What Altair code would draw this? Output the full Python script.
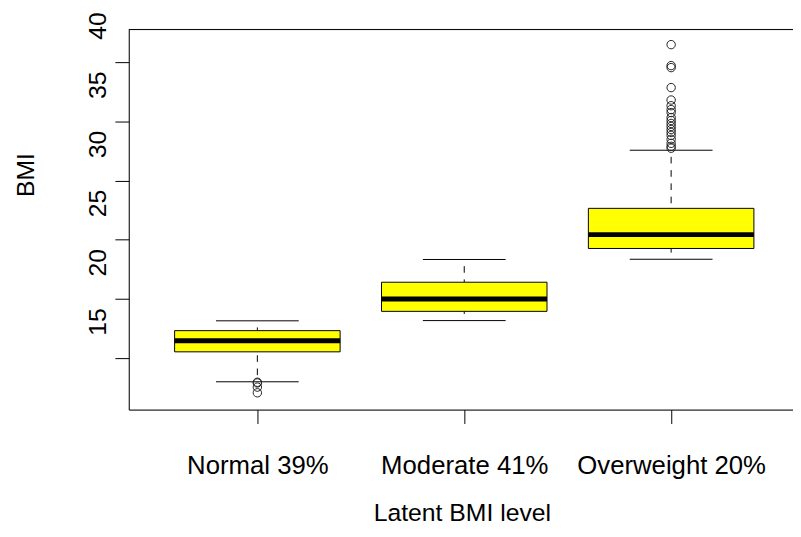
import altair as alt
import pandas as pd

# ---- data ----
groups = ["Normal 39%", "Moderate 41%", "Overweight 20%"]
positions = [1, 2, 3]
whisker_low = [13.00, 18.17, 23.35]
quart1 = [15.53, 18.95, 24.26]
medians = [16.46, 19.99, 25.43]
quart3 = [17.32, 21.41, 27.65]
whisker_high = [18.15, 23.33, 32.56]

normal_outliers = [12.96, 12.90, 12.55, 12.07]
overweight_outliers = [41.48, 39.71, 39.54, 37.85, 36.80, 36.32, 35.99, 35.74,
                       35.32, 35.07, 34.82, 34.57, 34.31, 34.06, 33.81, 33.48,
                       33.14, 32.89, 32.73]

y_ticks = [15, 20, 25, 30, 35, 40]

stats = pd.DataFrame({
    "group": groups, "pos": positions, "low": whisker_low, "q1": quart1,
    "med": medians, "q3": quart3, "high": whisker_high,
})
outl = pd.DataFrame({
    "pos": [1] * len(normal_outliers) + [3] * len(overweight_outliers),
    "val": normal_outliers + overweight_outliers,
})

W, H = 671, 384
FONT = "Liberation Sans"

label_js = "[''," + ",".join("'%s'" % g for g in groups) + "][datum.value]"

x_axis = alt.Axis(
    values=positions, labelExpr=label_js, title="Latent BMI level",
    grid=False, domainColor="black", tickColor="black", tickSize=14,
    labelPadding=51, labelBaseline="alphabetic", labelFontSize=26,
    labelFont=FONT, labelColor="black", labelFlush=False, labelOverlap=False,
    labelLimit=0,
    titleFont=FONT, titleFontSize=25, titleFontWeight="normal",
    titleColor="black", titleX=336.5, titleY=112, titleBaseline="alphabetic",
    titleAlign="center",
)
y_axis = alt.Axis(
    values=y_ticks, title="BMI", grid=False, domainColor="black",
    tickColor="black", tickSize=14, labelAngle=270, labelAlign="center",
    labelBaseline="alphabetic", labelOffset=-37, labelPadding=9,
    labelFontSize=25, labelFont=FONT, labelColor="black", labelFlush=False,
    labelOverlap=False, titleFont=FONT, titleFontSize=25,
    titleFontWeight="normal", titleColor="black", titleAngle=270,
    titleX=-96, titleY=146.5, titleBaseline="alphabetic", titleAlign="center",
)

xs = alt.Scale(domain=[0.3785, 3.589], nice=False, zero=False)
ys = alt.Scale(domain=[10.65, 42.76], nice=False, zero=False)

base = alt.Chart(stats).transform_calculate(
    bl="datum.pos - 0.4", br="datum.pos + 0.4",
    sl="datum.pos - 0.2", sr="datum.pos + 0.2",
)

dash = dict(color="black", strokeWidth=1, strokeDash=[6.7, 6.7],
            strokeDashOffset=6.7)
whisk_hi = base.mark_rule(**dash).encode(
    x=alt.X("pos:Q", scale=xs, axis=x_axis),
    y=alt.Y("high:Q", scale=ys, axis=y_axis),
    y2="q3:Q",
)
whisk_lo = base.mark_rule(**dash).encode(
    x=alt.X("pos:Q", scale=xs, axis=x_axis),
    y=alt.Y("low:Q", scale=ys, axis=y_axis),
    y2="q1:Q",
)
staple_hi = base.mark_rule(color="black", strokeWidth=1).encode(
    x=alt.X("sl:Q", scale=xs, axis=x_axis), x2="sr:Q",
    y=alt.Y("high:Q", scale=ys, axis=y_axis),
)
staple_lo = base.mark_rule(color="black", strokeWidth=1).encode(
    x=alt.X("sl:Q", scale=xs, axis=x_axis), x2="sr:Q",
    y=alt.Y("low:Q", scale=ys, axis=y_axis),
)
boxes = base.mark_rect(fill="#FFFF00", stroke="black", strokeWidth=1).encode(
    x=alt.X("bl:Q", scale=xs, axis=x_axis), x2="br:Q",
    y=alt.Y("q1:Q", scale=ys, axis=y_axis), y2="q3:Q",
)
med = base.mark_rule(color="black", strokeWidth=5, strokeCap="butt").encode(
    x=alt.X("bl:Q", scale=xs, axis=x_axis), x2="br:Q",
    y=alt.Y("med:Q", scale=ys, axis=y_axis),
)
pts = alt.Chart(outl).mark_point(shape="circle", filled=False, size=72,
                                 color="#222222", strokeWidth=1,
                                 opacity=1).encode(
    x=alt.X("pos:Q", scale=xs, axis=x_axis),
    y=alt.Y("val:Q", scale=ys, axis=y_axis),
)
frame_top = alt.Chart(pd.DataFrame({"k": [0]})).mark_rule(
    color="black", strokeWidth=1).encode(
    x=alt.value(0), x2=alt.value(W), y=alt.value(0),
)

chart = alt.layer(
    whisk_hi, whisk_lo, staple_hi, staple_lo, boxes, med, pts, frame_top
).properties(
    width=W, height=H, autosize="none",
    padding={"left": 122, "top": 19, "right": 0, "bottom": 126},
).configure_view(stroke=None).configure(background="white")

chart.save("out.html", embed_options={"renderer": "svg", "actions": False})
